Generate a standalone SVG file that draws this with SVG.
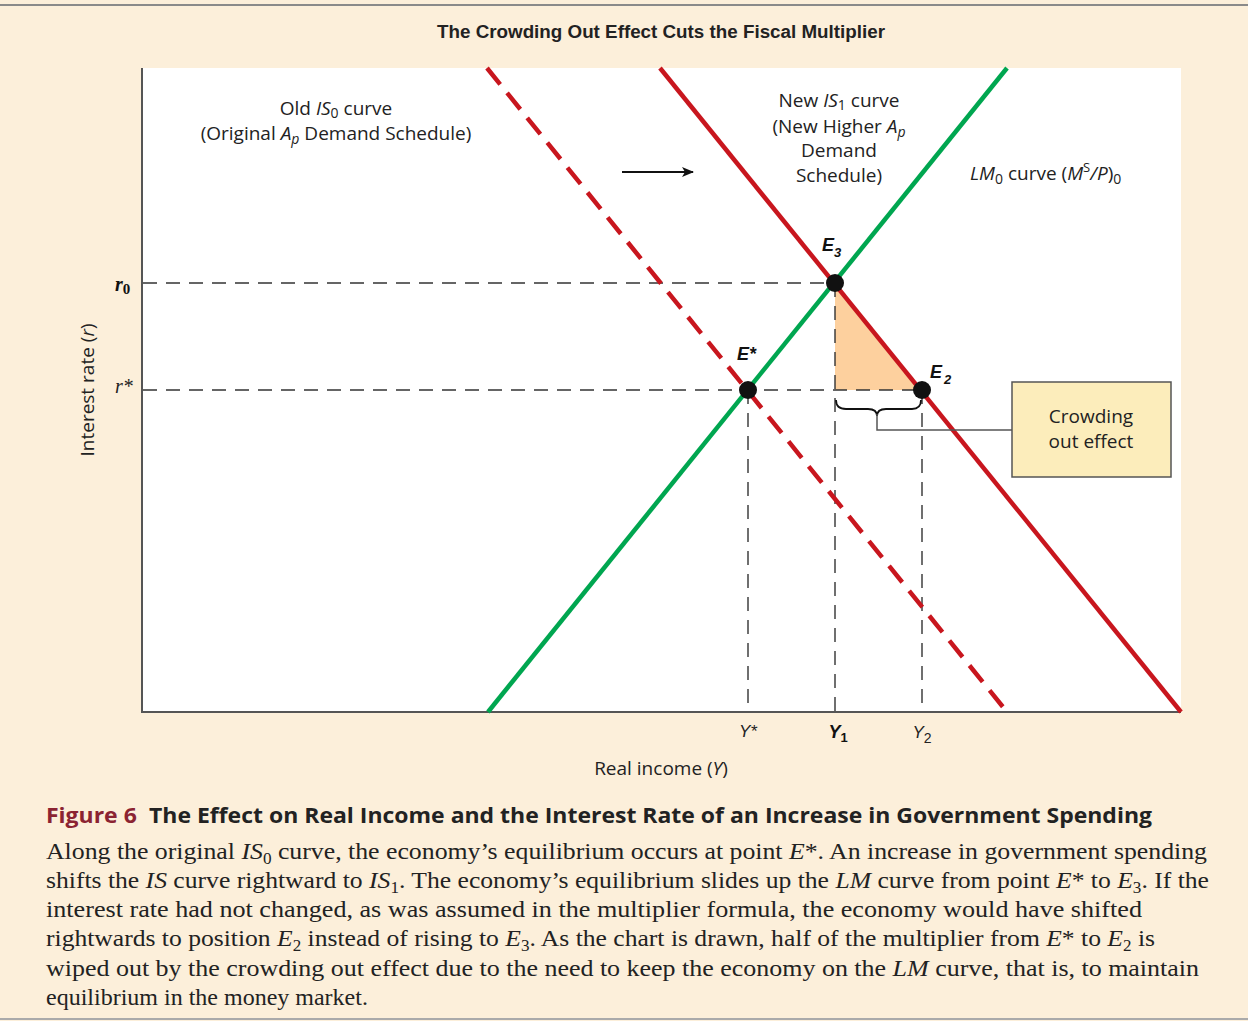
<svg xmlns="http://www.w3.org/2000/svg" width="1248" height="1021" viewBox="0 0 1248 1021">
<style>
.lbl{font-family:"Open Sans","Liberation Sans",sans-serif;font-size:19px;fill:#222}
.it{font-style:italic}
.bi{font-family:"Liberation Sans",sans-serif;font-weight:bold;font-style:italic;font-size:18px;fill:#111}
.guide{stroke:#333;stroke-width:1.4;stroke-dasharray:14 9;fill:none}
.cap{font-family:"Liberation Serif",serif;font-size:24px;fill:#222}
.pt{fill:#111}
</style>
<defs>
<marker id="ah" markerWidth="12" markerHeight="10" refX="11" refY="5" orient="auto" markerUnits="userSpaceOnUse">
<path d="M0,0 L12,5 L0,10 L3,5 Z" fill="#111"/>
</marker>
</defs>
<rect x="0" y="0" width="1248" height="1021" fill="#FCEFDA"/>
<line x1="0" y1="5" x2="1248" y2="5" stroke="#8a8a8a" stroke-width="2"/>
<line x1="0" y1="1019" x2="1248" y2="1019" stroke="#aaa" stroke-width="2"/>
<text x="661" y="38" text-anchor="middle" font-family="Liberation Sans,sans-serif" font-weight="bold" font-size="18" fill="#222" textLength="448" lengthAdjust="spacingAndGlyphs">The Crowding Out Effect Cuts the Fiscal Multiplier</text>
<g id="plot">
<rect x="142" y="68" width="1039" height="644" fill="#fff"/>
<polygon points="835,283 835,390 922,390" fill="#FDD09E"/>
</g>
<g id="guides">
<line class="guide" x1="143" y1="283" x2="835" y2="283"/>
<line class="guide" x1="143" y1="390" x2="922" y2="390"/>
<line class="guide" x1="748" y1="390" x2="748" y2="711"/>
<line class="guide" x1="835" y1="283" x2="835" y2="711"/>
<line class="guide" x1="922" y1="390" x2="922" y2="711"/>
</g>
<g id="axes" stroke="#555" stroke-width="2">
<line x1="142" y1="68" x2="142" y2="712"/>
<line x1="141" y1="712" x2="1181" y2="712"/>
</g>
<g id="LM0">
<line x1="488" y1="712" x2="1007" y2="68" stroke="#00A650" stroke-width="4.5"/>
</g>
<g id="IS0">
<line x1="487" y1="68" x2="1007" y2="712" stroke="#C8161E" stroke-width="4.5" stroke-dasharray="21 11"/>
</g>
<g id="IS1">
<line x1="660" y1="68" x2="1181" y2="712" stroke="#C8161E" stroke-width="4.5"/>
</g>
<g id="E3"><circle class="pt" cx="835" cy="283" r="9"/><text class="bi" x="822" y="251">E<tspan font-size="13" dy="6">3</tspan></text></g>
<g id="Estar"><circle class="pt" cx="748" cy="390" r="9"/><text class="bi" x="737" y="360">E*</text></g>
<g id="E2"><circle class="pt" cx="922" cy="390" r="9"/><text class="bi" x="930" y="378">E<tspan font-size="13" dy="6" dx="2">2</tspan></text></g>
<g id="crowding-box">
<rect x="1012" y="382" width="159" height="95" fill="#FCEDBB" stroke="#555" stroke-width="1.5"/>
<text class="lbl" x="1091" y="423" text-anchor="middle">Crowding</text>
<text class="lbl" x="1091" y="448" text-anchor="middle">out effect</text>
</g>
<g id="connectors">
<line x1="622" y1="172" x2="693" y2="172" stroke="#111" stroke-width="2" marker-end="url(#ah)"/>
<path d="M836,400 Q836,409 846,409 L868,409 Q877,409 877,416 Q877,409 886,409 L912,409 Q921,409 921,400" fill="none" stroke="#111" stroke-width="1.8"/>
<polyline points="877,414 877,430 1012,430" fill="none" stroke="#555" stroke-width="1.5"/>
</g>
<g id="labels">
<text class="lbl" x="336" y="115" text-anchor="middle">Old <tspan class="it">IS</tspan><tspan font-size="14" dy="3">0</tspan><tspan dy="-3"> curve</tspan></text>
<text class="lbl" x="336" y="140" text-anchor="middle">(Original <tspan class="it">A</tspan><tspan class="it" font-size="14" dy="4">p</tspan><tspan dy="-4"> Demand Schedule)</tspan></text>
<text class="lbl" x="839" y="107" text-anchor="middle">New <tspan class="it">IS</tspan><tspan font-size="14" dy="3">1</tspan><tspan dy="-3"> curve</tspan></text>
<text class="lbl" x="839" y="133" text-anchor="middle">(New Higher <tspan class="it">A</tspan><tspan class="it" font-size="14" dy="4">p</tspan></text>
<text class="lbl" x="839" y="157" text-anchor="middle">Demand</text>
<text class="lbl" x="839" y="182" text-anchor="middle">Schedule)</text>
<text class="lbl" x="970" y="180"><tspan class="it">LM</tspan><tspan font-size="14" dy="4">0</tspan><tspan dy="-4"> curve (</tspan><tspan class="it">M</tspan><tspan font-size="13" dy="-8">S</tspan><tspan class="it" dy="8">/P</tspan>)<tspan font-size="14" dy="4">0</tspan></text>
<text x="115" y="291" font-family="Liberation Serif,serif" font-weight="bold" font-style="italic" font-size="20" fill="#111">r<tspan font-size="15" dy="3" font-style="normal">0</tspan></text>
<text x="115" y="393" font-family="Liberation Serif,serif" font-style="italic" font-size="20" fill="#222">r*</text>
<text class="lbl" transform="translate(94,390) rotate(-90)" text-anchor="middle" font-size="18">Interest rate (<tspan class="it">r</tspan>)</text>
<text x="748" y="737" text-anchor="middle" font-family="Liberation Sans,sans-serif" font-style="italic" font-size="17" fill="#222">Y*</text>
<text x="838" y="738" text-anchor="middle" font-family="Liberation Sans,sans-serif" font-weight="bold" font-style="italic" font-size="18" fill="#111">Y<tspan font-size="13" dy="4" font-style="normal">1</tspan></text>
<text x="922" y="738" text-anchor="middle" font-family="Liberation Sans,sans-serif" font-style="italic" font-size="17" fill="#222">Y<tspan font-size="14" dy="5" font-style="normal">2</tspan></text>
<text class="lbl" x="661" y="775" text-anchor="middle" font-size="18">Real income (<tspan class="it">Y</tspan>)</text>
</g>
<g id="caption">
<text x="46" y="823" font-family="Open Sans,Liberation Sans,sans-serif" font-weight="bold" font-size="22" fill="#222" textLength="1106" lengthAdjust="spacingAndGlyphs"><tspan fill="#8B2332">Figure 6</tspan><tspan dx="6"> The Effect on Real Income and the Interest Rate of an Increase in Government Spending</tspan></text>
<text class="cap" x="46" y="859" textLength="1161" lengthAdjust="spacingAndGlyphs">Along the original <tspan font-style="italic">IS</tspan><tspan font-size="16" dy="5">0</tspan><tspan dy="-5"> curve, the economy’s equilibrium occurs at point </tspan><tspan font-style="italic">E</tspan>*. An increase in government spending</text>
<text class="cap" x="46" y="888" textLength="1163" lengthAdjust="spacingAndGlyphs">shifts the <tspan font-style="italic">IS</tspan> curve rightward to <tspan font-style="italic">IS</tspan><tspan font-size="16" dy="5">1</tspan><tspan dy="-5">. The economy’s equilibrium slides up the </tspan><tspan font-style="italic">LM</tspan> curve from point <tspan font-style="italic">E</tspan>* to <tspan font-style="italic">E</tspan><tspan font-size="16" dy="5">3</tspan><tspan dy="-5">. If the</tspan></text>
<text class="cap" x="46" y="917" textLength="1096" lengthAdjust="spacingAndGlyphs">interest rate had not changed, as was assumed in the multiplier formula, the economy would have shifted</text>
<text class="cap" x="46" y="946" textLength="1109" lengthAdjust="spacingAndGlyphs">rightwards to position <tspan font-style="italic">E</tspan><tspan font-size="16" dy="5">2</tspan><tspan dy="-5"> instead of rising to </tspan><tspan font-style="italic">E</tspan><tspan font-size="16" dy="5">3</tspan><tspan dy="-5">. As the chart is drawn, half of the multiplier from </tspan><tspan font-style="italic">E</tspan>* to <tspan font-style="italic">E</tspan><tspan font-size="16" dy="5">2</tspan><tspan dy="-5"> is</tspan></text>
<text class="cap" x="46" y="976" textLength="1153" lengthAdjust="spacingAndGlyphs">wiped out by the crowding out effect due to the need to keep the economy on the <tspan font-style="italic">LM</tspan> curve, that is, to maintain</text>
<text class="cap" x="46" y="1005">equilibrium in the money market.</text>
</g>
</svg>
